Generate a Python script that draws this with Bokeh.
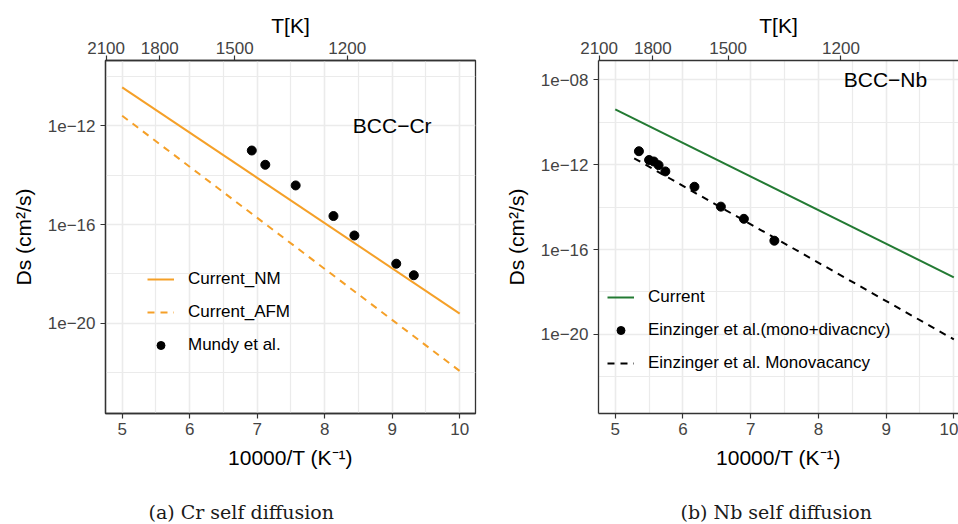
from bokeh.plotting import figure
from bokeh.models import Range1d, FixedTicker, LinearAxis, Legend, LegendItem
from bokeh.layouts import row, column
from bokeh.core.properties import value
from bokeh.embed import file_html
from bokeh.resources import INLINE

# ---------------- data ----------------
# Cr (left panel)
cr_mundy_invT = [6.92, 7.12, 7.57, 8.13, 8.44, 9.06, 9.32]
cr_mundy_D = [9.8e-14, 2.6e-14, 3.8e-15, 2.2e-16, 3.6e-17, 2.6e-18, 8.9e-19]
cr_nm_invT = [5.0, 10.0]
cr_nm_D = [3.5e-11, 2.5e-20]
cr_afm_invT = [5.0, 10.0]
cr_afm_D = [2.5e-12, 1.2e-22]

# Nb (right panel)
nb_cur_invT = [5.0, 10.0]
nb_cur_D = [4.0e-10, 4.9e-18]
nb_mono_invT = [5.28, 10.0]
nb_mono_D = [2.0e-12, 5.8e-21]
nb_ein_invT = [5.35, 5.50, 5.57, 5.64, 5.74, 6.17, 6.56, 6.90, 7.35]
nb_ein_D = [4.3e-12, 1.66e-12, 1.41e-12, 9.5e-13, 4.8e-13, 9.1e-14, 1.05e-14, 2.8e-15, 2.6e-16]

# ticks
x_ticks = [5, 6, 7, 8, 9, 10]
x_minor = [5.5, 6.5, 7.5, 8.5, 9.5]
temp_ticks = [2100, 1800, 1500, 1200]
cr_y_major = [1e-12, 1e-16, 1e-20]
cr_y_minor = [1e-10, 1e-14, 1e-18, 1e-22]
nb_y_major = [1e-08, 1e-12, 1e-16, 1e-20]
nb_y_minor = [1e-10, 1e-14, 1e-18, 1e-22]
cr_y_labels = ["1e\u221212", "1e\u221216", "1e\u221220"]
nb_y_labels = ["1e\u221208", "1e\u221212", "1e\u221216", "1e\u221220"]

captions = ["(a) Cr self diffusion", "(b) Nb self diffusion"]

FONT = "Liberation Sans"
SERIF = "DejaVu Serif"
ORANGE = "#F5A028"
GREEN = "#237A33"
DARK = "#333333"
GRID = "#EBEBEB"
PANEL_H = 482


def style_axis(ax, tick_size="17px"):
    ax.major_tick_in = 0
    ax.major_tick_out = 5
    ax.minor_tick_line_color = None
    ax.minor_tick_in = 0
    ax.minor_tick_out = 0
    ax.axis_line_color = DARK
    ax.axis_line_width = 1.3
    ax.major_tick_line_color = DARK
    ax.major_tick_line_width = 1.2
    ax.major_label_text_font = FONT
    ax.major_label_text_font_size = tick_size
    ax.major_label_text_color = "#444444"
    ax.axis_label_text_font = FONT
    ax.axis_label_text_font_size = "21px"
    ax.axis_label_text_font_style = "normal"
    ax.axis_label_text_color = "black"


def make_panel(width, border_left, border_right, x_end, y_lo, y_hi,
               y_major, y_minor, y_labels, outline):
    p = figure(width=width, height=PANEL_H,
               x_range=Range1d(4.753, x_end), y_range=Range1d(y_lo, y_hi),
               y_axis_type="log", output_backend="svg", toolbar_location=None,
               min_border_left=border_left, min_border_right=border_right,
               min_border_top=60, min_border_bottom=PANEL_H - 413)
    p.background_fill_color = "white"
    p.border_fill_color = "white"
    p.outline_line_color = DARK if outline else None
    p.outline_line_width = 1.3

    xa = p.xaxis[0]
    xa.ticker = FixedTicker(ticks=x_ticks, minor_ticks=x_minor)
    style_axis(xa)
    xa.major_label_standoff = 4
    xa.axis_label = "10000/T (K\u207b\u00b9)"
    xa.axis_label_standoff = 8

    ya = p.yaxis[0]
    ya.ticker = FixedTicker(ticks=y_major, minor_ticks=y_minor)
    ya.major_label_overrides = {t: l for t, l in zip(y_major, y_labels)}
    style_axis(ya)
    ya.major_label_standoff = 5
    ya.axis_label = "Ds (cm\u00b2/s)"
    ya.axis_label_standoff = 10

    top = LinearAxis(ticker=FixedTicker(ticks=[10000.0 / t for t in temp_ticks]),
                     major_label_overrides={10000.0 / t: str(t) for t in temp_ticks},
                     axis_label="T[K]")
    style_axis(top)
    top.major_label_standoff = 2
    top.axis_label_standoff = 2
    p.add_layout(top, "above")

    for g in (p.xgrid[0], p.ygrid[0]):
        g.grid_line_color = GRID
        g.grid_line_width = 1.6
        g.minor_grid_line_color = GRID
        g.minor_grid_line_width = 1.2
    return p


# ---------------- left: Cr ----------------
p1 = make_panel(480, 105, 5, 10.234, 10 ** -23.64, 10 ** -9.37,
                cr_y_major, cr_y_minor, cr_y_labels, True)

r_nm = p1.line(cr_nm_invT, cr_nm_D, line_color=ORANGE, line_width=2)
r_afm = p1.line(cr_afm_invT, cr_afm_D, line_color=ORANGE, line_width=2,
                line_dash="7 6")
r_mu = p1.scatter(cr_mundy_invT, cr_mundy_D, size=9, color="black")
p1.text(x=[9.0], y=[1e-12], text=["BCC\u2212Cr"], text_align="center",
        text_baseline="middle", text_font=value(FONT), text_font_size="21px",
        text_color="black")

leg1 = Legend(items=[LegendItem(label="Current_NM", renderers=[r_nm]),
                     LegendItem(label="Current_AFM", renderers=[r_afm]),
                     LegendItem(label="Mundy et al.", renderers=[r_mu])],
              location=(42, 58))
p1.add_layout(leg1, "center")

# ---------------- right: Nb ----------------
p2 = make_panel(478, 118, 0, 10.069, 10 ** -23.73, 10 ** -7.09,
                nb_y_major, nb_y_minor, nb_y_labels, False)

r_cur = p2.line(nb_cur_invT, nb_cur_D, line_color=GREEN, line_width=2)
r_ein = p2.scatter(nb_ein_invT, nb_ein_D, size=9, color="black")
r_mono = p2.line(nb_mono_invT, nb_mono_D, line_color="black", line_width=2,
                 line_dash="7 6")
p2.text(x=[8.99], y=[1e-08], text=["BCC\u2212Nb"], text_align="center",
        text_baseline="middle", text_font=value(FONT), text_font_size="21px",
        text_color="black")

leg2 = Legend(items=[LegendItem(label="Current", renderers=[r_cur]),
                     LegendItem(label="Einzinger et al.(mono+divacncy)", renderers=[r_ein]),
                     LegendItem(label="Einzinger et al. Monovacancy", renderers=[r_mono])],
              location=(9, 40))
p2.add_layout(leg2, "center")

for lg in (leg1, leg2):
    lg.background_fill_alpha = 0
    lg.border_line_color = None
    lg.padding = 0
    lg.margin = 0
    lg.spacing = 13
    lg.glyph_width = 27
    lg.glyph_height = 20
    lg.label_height = 20
    lg.label_standoff = 14
    lg.label_text_font = FONT
    lg.label_text_font_size = "17px"
    lg.label_text_color = "black"
    lg.label_text_baseline = "middle"

# ---------------- captions strip ----------------
cap_h = 524 - PANEL_H
pc = figure(width=958, height=cap_h, x_range=Range1d(0, 958), y_range=Range1d(0, cap_h),
            output_backend="svg", toolbar_location=None,
            x_axis_location=None, y_axis_location=None,
            min_border_left=0, min_border_right=0, min_border_top=0, min_border_bottom=0)
pc.outline_line_color = None
pc.grid.visible = False
pc.background_fill_color = "white"
pc.border_fill_color = "white"
pc.text(x=[148, 680], y=[13, 13], text=captions,
        text_align="left", text_baseline="middle",
        text_font=value(SERIF), text_font_size="19px", text_color="#1a1a1a")

layout = column(row(p1, p2), pc)
open("out.html", "w").write(file_html(layout, INLINE))
